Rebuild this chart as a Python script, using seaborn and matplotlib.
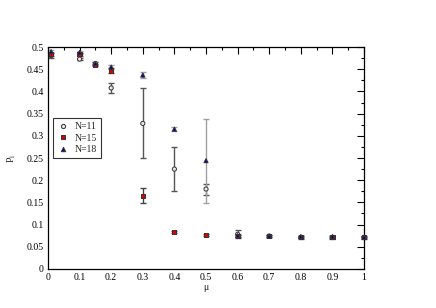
import numpy as np
import pandas as pd
import matplotlib
matplotlib.use("Agg")
import matplotlib.pyplot as plt
import seaborn as sns
from matplotlib.ticker import MultipleLocator, FixedLocator
from matplotlib.lines import Line2D

mu = [0.01, 0.1, 0.15, 0.2, 0.3, 0.4, 0.5, 0.6, 0.7, 0.8, 0.9, 1.0]
p_n11 = [0.481, 0.473, 0.463, 0.408, 0.328, 0.225, 0.180, 0.078, 0.074, 0.071, 0.071, 0.071]
e_n11 = [0.005, 0.002, 0.003, 0.012, 0.079, 0.050, 0.0125, 0.009, 0.002, 0.003, 0.003, 0.003]
p_n15 = [0.484, 0.484, 0.460, 0.447, 0.165, 0.083, 0.077, 0.075, 0.074, 0.072, 0.072, 0.071]
e_n15 = [0.003, 0.003, 0.003, 0.005, 0.017, 0.002, 0.002, 0.002, 0.002, 0.002, 0.002, 0.002]
p_n18 = [0.490, 0.488, 0.463, 0.455, 0.437, 0.315, 0.244, 0.075, 0.074, 0.073, 0.073, 0.071]
e_n18 = [0.004, 0.004, 0.003, 0.005, 0.006, 0.005, 0.095, 0.003, 0.002, 0.002, 0.002, 0.002]
labels = ["N=11", "N=15", "N=18"]
x_ticks = [0, 0.1, 0.2, 0.3, 0.4, 0.5, 0.6, 0.7, 0.8, 0.9, 1.0]
x_tick_labels = ["0", "0.1", "0.2", "0.3", "0.4", "0.5", "0.6", "0.7", "0.8", "0.9", "1"]
y_ticks = [0, 0.05, 0.1, 0.15, 0.2, 0.25, 0.3, 0.35, 0.4, 0.45, 0.5]
y_tick_labels = ["0", "0.05", "0.1", "0.15", "0.2", "0.25", "0.3", "0.35", "0.4", "0.45", "0.5"]

frames = []
for lab, p, e in zip(labels, [p_n11, p_n15, p_n18], [e_n11, e_n15, e_n18]):
    frames.append(pd.DataFrame({"mu": mu, "P": p, "err": e, "N": lab}))
df = pd.concat(frames, ignore_index=True)

sns.set_style("white")
plt.rcParams["font.family"] = ["Liberation Serif", "DejaVu Serif"]
plt.rcParams["mathtext.fontset"] = "stix"

fig = plt.figure(figsize=(4.36, 3.08), dpi=100)
ax = fig.add_axes([0.110, 0.127, 0.725, 0.720])

err_colors = {"N=11": "#555555", "N=15": "#444444", "N=18": "#a0a0a0"}
for lab in labels:
    d = df[df["N"] == lab]
    ax.errorbar(d["mu"], d["P"], yerr=d["err"], fmt="none",
                ecolor=err_colors[lab], elinewidth=1.0, capsize=2.5,
                capthick=1.0, zorder=2, clip_on=False)

palette = {"N=11": "#e8e8e8", "N=15": "#dd0000", "N=18": "#0000aa"}
markers = {"N=11": "o", "N=15": "s", "N=18": "^"}
sns.scatterplot(data=df, x="mu", y="P", hue="N", style="N",
                palette=palette, markers=markers, s=9,
                edgecolor="#333333", linewidth=0.7, ax=ax, zorder=3,
                legend=False, clip_on=False)

handles = [
    Line2D([], [], marker="o", ls="none", mfc="#e8e8e8", mec="#444444", ms=3.0, mew=0.8),
    Line2D([], [], marker="s", ls="none", mfc="#dd0000", mec="#333333", ms=3.0, mew=0.7),
    Line2D([], [], marker="^", ls="none", mfc="#0000aa", mec="#333333", ms=3.2, mew=0.7),
]
leg = ax.legend(handles, labels, loc="lower left", bbox_to_anchor=(0.016, 0.5),
                frameon=True, fancybox=False, fontsize=7, handlelength=1.2,
                handletextpad=0.6, borderpad=0.4, labelspacing=0.25,
                borderaxespad=0)
leg.get_frame().set_edgecolor("black")
leg.get_frame().set_linewidth(0.8)

ax.set_xlim(0, 1)
ax.set_ylim(0, 0.5)
ax.xaxis.set_major_locator(FixedLocator(x_ticks))
ax.set_xticklabels(x_tick_labels)
ax.yaxis.set_major_locator(FixedLocator(y_ticks))
ax.set_yticklabels(y_tick_labels)
ax.xaxis.set_minor_locator(MultipleLocator(0.05))
ax.yaxis.set_minor_locator(MultipleLocator(0.025))
ax.tick_params(which="both", direction="in", top=True, right=True,
               labelsize=7, colors="black", width=0.8)
ax.tick_params(which="major", length=5, pad=3)
ax.tick_params(which="minor", length=2.5)
for s in ax.spines.values():
    s.set_color("black")
    s.set_linewidth(0.9)

ax.set_xlabel("μ", fontsize=7, labelpad=1)
ax.set_ylabel("P$_{\\mathrm{l}}$", fontsize=7, labelpad=6)
fig.savefig("out.png", dpi=100)
